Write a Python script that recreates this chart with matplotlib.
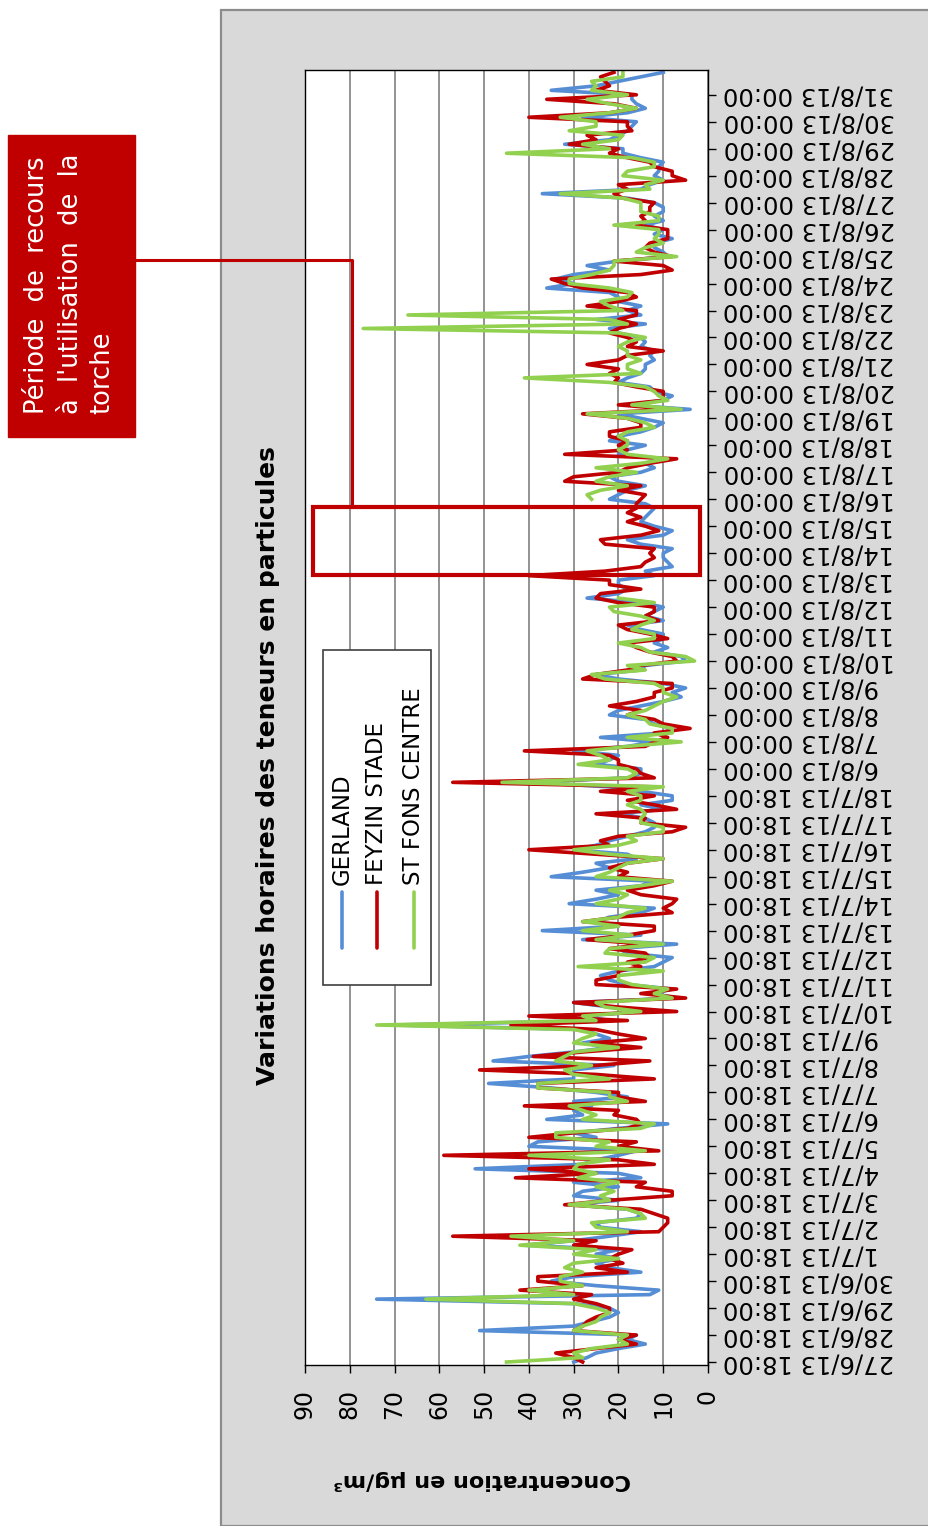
import numpy as np
import matplotlib
matplotlib.use("Agg")
import matplotlib.pyplot as plt
from matplotlib.patches import Rectangle
from matplotlib.lines import Line2D

nan = np.nan

# ---------------------------------------------------------------- données
# concentrations horaires, 6 valeurs par jour (pas de 4 h)
GERLAND = [
    30, 27, 25, 20, 14, 18,
    16, 51, 30, 26, 22, 20,
    22, 30, 74, 13, 11, 25,
    35, 30, 15, 22, 25, 20,
    25, 20, 41, 30, 22, 15,
    24, 25, 16, 15, 18, 30,
    20, 30, 28, 20, 30, 15,
    20, 52, 28, 25, 20, 16,
    40, 38, 25, 30, 20, 9,
    36, 28, 30, 26, 30, 18,
    25, 35, 49, 30, 30, 30,
    21, 48, 40, 30, 22, 28,
    22, 25, 28, 70, 22, 28,
    15, 22, 30, 7, 12, 8,
    18, 22, 24, 20, 12, 10,
    8, 18, 20, 7, 28, 15,
    37, 20, 25, 22, 15, 12,
    31, 25, 20, 25, 15, 12,
    35, 28, 22, 25, 16, 18,
    30, 25, 22, 18, 14, 12,
    12, 14, 20, 10, 15, 8,
    8, 15, 22, 40, 18, 15,
    15, 25, 22, 20, 30, 18,
    12, 24, 10, 8, 12, 14,
    22, 20, 15, 10, 6, 8,
    5, 10, 20, 25, 15, 14,
    5, 6, 12, 9, 12, 10,
    10, 15, 18, 10, 14, 12,
    10, 15, 27, 20, 18, 20,
    20, 12, 14, 8, 9, 10,
    10, 8, 15, 18, 10, 8,
    12, 15, 14, 13, 12, 14,
    22, 20, 18, 14, 20, 22,
    15, 12, 14, 10, 20, 18,
    14, 22, 20, 15, 12, 10,
    15, 20, 4, 18, 10, 8,
    12, 13, 20, 18, 15, 14,
    14, 12, 13, 12, 15, 14,
    15, 20, 22, 14, 25, 15,
    18, 15, 20, 20, 22, 36,
    30, 34, 30, 22, 27, 20,
    9, 10, 12, 12, 8, 12,
    10, 14, 10, 12, 10, 10,
    12, 18, 37, 15, 13, 10,
    12, 11, 11, 10, 15, 19,
    19, 32, 22, 20, 18, 17,
    16, 28, 18, 14, 16, 17,
    17, 35, 25, 20, 15, 10,
]

FEYZIN_STADE = [
    28, 30, 34, 25, 16, 20,
    16, 30, 28, 27, 25, 22,
    22, 25, 30, 26, 42, 28,
    38, 38, 18, 25, 19, 22,
    20, 17, 30, 25, 57, 11,
    10, 9, 9, 12, 15, 32,
    22, 8, 8, 16, 14, 43,
    25, 40, 12, 20, 59, 11,
    20, 16, 40, 30, 18, 15,
    16, 21, 20, 41, 14, 20,
    20, 38, 38, 12, 25, 51,
    25, 13, 39, 28, 15, 26,
    14, 20, 25, 44, 18, 40,
    7, 20, 30, 5, 15, 7,
    25, 25, 20, 20, 15, 18,
    13, 14, 22, 14, 27, 18,
    12, 12, 28, 20, 8, 10,
    8, 7, 15, 18, 12, 8,
    20, 18, 22, 18, 10, 25,
    40, 22, 24, 20, 8, 5,
    15, 14, 25, 7, 12, 18,
    12, 24, 12, 57, 12, 15,
    16, 20, 20, 22, 41, 14,
    12, 9, 12, 4, 10, 12,
    18, 15, 22, 16, 12, 12,
    8, 8, 28, 25, 18, 15,
    7, 8, 13, 16, 18, 9,
    13, 18, 20, 11, 14, 12,
    12, 20, 25, 24, 15, 22,
    22, 40, 23, 15, 14, 12,
    13, 12, 23, 24, 15, 11,
    14, 18, 15, 18, 16, 16,
    15, 14, 20, 15, 32, 30,
    20, 18, 13, 7, 32, 18,
    20, 18, 22, 22, 15, 15,
    18, 28, 8, 20, 10, 10,
    10, 16, 21, 20, 22, 20,
    27, 20, 18, 10, 18, 16,
    18, 22, 20, 16, 20, 16,
    16, 27, 20, 16, 18, 28,
    32, 35, 15, 8, 10, 21,
    8, 12, 14, 13, 9, 9,
    9, 16, 14, 15, 13, 13,
    12, 19, 21, 18, 20, 5,
    8, 8, 12, 13, 18, 22,
    20, 31, 25, 27, 17, 18,
    18, 40, 22, 16, 21, 36,
    16, 25, 22, 23, 24, 21,
]

ST_FONS_CENTRE = [
    45, 28, 30, 26, 18, 20,
    18, 30, 28, 25, 24, 22,
    25, 30, 63, 30, 40, 28,
    33, 33, 28, 32, 30, 20,
    30, 25, 42, 30, 44, 18,
    25, 26, 14, 15, 18, 31,
    22, 24, 21, 25, 20, 29,
    25, 30, 29, 22, 40, 14,
    25, 22, 34, 34, 15, 12,
    28, 25, 28, 31, 18, 22,
    22, 38, 38, 22, 30, 32,
    26, 34, 32, 30, 20, 30,
    28, 25, 30, 74, 25, 28,
    15, 23, 25, 8, 12, 9,
    17, 20, 20, 10, 29, 14,
    12, 23, 22, 10, 25, 17,
    28, 20, 28, 20, 18, 14,
    25, 20, 18, 22, 15, 8,
    25, 22, 20, 18, 10, 22,
    30, 20, 16, 18, 10, 10,
    15, 15, 14, 15, 18, 15,
    15, 18, 10, 46, 18, 16,
    18, 29, 22, 24, 27, 18,
    6, 18, 8, 8, 13, 14,
    18, 14, 12, 10, 7, 10,
    10, 12, 23, 26, 14, 18,
    3, 5, 13, 15, 20, 12,
    12, 17, 15, 12, 15, 21,
    22, 12, 20, nan, nan, nan,
    nan, nan, nan, nan, nan, nan,
    nan, nan, nan, nan, nan, nan,
    nan, nan, nan, nan, nan, nan,
    26, 27, 24, 18, 25, 22,
    16, 25, 15, 9, 18, 20,
    18, 18, 20, 18, 12, 14,
    18, 27, 6, 17, 9, 11,
    12, 14, 22, 41, 15, 18,
    18, 15, 18, 18, 20, 18,
    14, 20, 77, 18, 22, 67,
    19, 22, 24, 18, 17, 22,
    31, 31, 26, 22, 21, 21,
    7, 16, 14, 10, 12, 11,
    11, 21, 11, 11, 15, 15,
    15, 19, 33, 13, 14, 10,
    19, 18, 12, 12, 17, 45,
    22, 28, 20, 19, 31, 25,
    25, 33, 22, 16, 22, 27,
    18, 26, 25, 26, 19, 19,
]

PAR_JOUR = 6
# étiquettes de l'axe des catégories (un repère toutes les 24 heures)
JOURS_JUIN_JUILLET = [(27, 6), (28, 6), (29, 6), (30, 6)] + [(j, 7) for j in range(1, 19)]
JOURS_AOUT = [(j, 8) for j in range(6, 32)]
ETIQUETTES = ([f"{j}/{m}/13 18:00" for j, m in JOURS_JUIN_JUILLET]
              + [f"{j}/{m}/13 00:00" for j, m in JOURS_AOUT])

SERIES = [("GERLAND", GERLAND, "#558ed5"),
          ("FEYZIN STADE", FEYZIN_STADE, "#c00000"),
          ("ST FONS CENTRE", ST_FONS_CENTRE, "#92d050")]

# ---------------------------------------------------------------- figure
W, H = 929, 1526


def fx(x):
    return x / W


def fy(y):
    return 1 - y / H


fig = plt.figure(figsize=(W / 100, H / 100), dpi=100, facecolor="white")

# zone du graphique (fond gris)
fig.add_artist(Rectangle((fx(221), 0), 1 - fx(221) + 0.01, fy(10), transform=fig.transFigure,
                         facecolor="#d9d9d9", edgecolor="#8c8c8c", lw=1.6, zorder=-5))

ax = fig.add_axes([fx(305), fy(1365), fx(708) - fx(305), fy(70) - fy(1365)])
ax.set_facecolor("white")

# le graphique est pivoté : valeurs en abscisse (inversée), temps en ordonnée
t = np.arange(len(GERLAND)) / PAR_JOUR
for nom, vals, couleur in SERIES:
    ax.plot(np.array(vals, dtype=float), t, color=couleur, lw=2.6, solid_joinstyle="round")

ax.set_xlim(90, 0)
ax.set_ylim(-0.11, 47.92)
ax.set_xticks(range(0, 91, 10))
ax.set_yticks(range(len(ETIQUETTES)))
ax.set_yticklabels(ETIQUETTES)
ax.yaxis.tick_right()
ax.grid(axis="x", color="#8a8a8a", lw=1.3)
ax.set_axisbelow(True)
for s in ax.spines.values():
    s.set_color("#000000")
    s.set_linewidth(1.0)

ax.tick_params(axis="y", direction="out", length=6, width=1, labelsize=17.5, pad=5)
ax.tick_params(axis="x", direction="out", length=6, width=1, labelsize=17, pad=11)
plt.setp(ax.get_yticklabels(), rotation=180, va="center", ha="left")
plt.setp(ax.get_xticklabels(), rotation=90, va="top", ha="center")

# titre et titre d'axe
fig.text(fx(268), fy(766), "Variations horaires des teneurs en particules",
         rotation=90, ha="center", va="center", fontsize=18, fontweight="bold")
fig.text(fx(482), fy(1480), "Concentration en µg/m³", rotation=180,
         ha="center", va="center", fontsize=16, fontweight="bold")

# légende (pivotée comme le reste du graphique)
fig.add_artist(Rectangle((fx(323), fy(985)), fx(431) - fx(323), fy(650) - fy(985),
                         transform=fig.transFigure, facecolor="white",
                         edgecolor="#3f3f3f", lw=1.2, zorder=3))
for xl, (nom, vals, couleur) in zip([342, 377, 414], SERIES):
    fig.add_artist(Line2D([fx(xl), fx(xl)], [fy(948), fy(892)], transform=fig.transFigure,
                          color=couleur, lw=2.6, solid_capstyle="round", zorder=4))
    fig.text(fx(xl), fy(885), nom, rotation=90, ha="center", va="bottom",
             fontsize=16.5, zorder=4)

# période d'utilisation de la torche
ROUGE = "#c00000"
fig.add_artist(Rectangle((fx(313), fy(575)), fx(700) - fx(313), fy(507) - fy(575),
                         transform=fig.transFigure, fill=False, edgecolor=ROUGE,
                         lw=3.0, zorder=5))
fig.add_artist(Line2D([fx(135), fx(352), fx(352)], [fy(260), fy(260), fy(507)],
                      transform=fig.transFigure, color=ROUGE, lw=2.2, zorder=5))
fig.add_artist(Rectangle((fx(8), fy(437)), fx(135) - fx(8), fy(135) - fy(437),
                         transform=fig.transFigure, facecolor=ROUGE, edgecolor=ROUGE,
                         lw=1, zorder=5))
for xl, ligne in zip([37, 71, 102], ["Période  de  recours", "à  l'utilisation  de  la", "torche"]):
    fig.text(fx(xl), fy(414), ligne, rotation=90, ha="center", va="bottom",
             color="white", fontsize=18.5, zorder=6)

fig.savefig("out.png", dpi=100, facecolor="white")
